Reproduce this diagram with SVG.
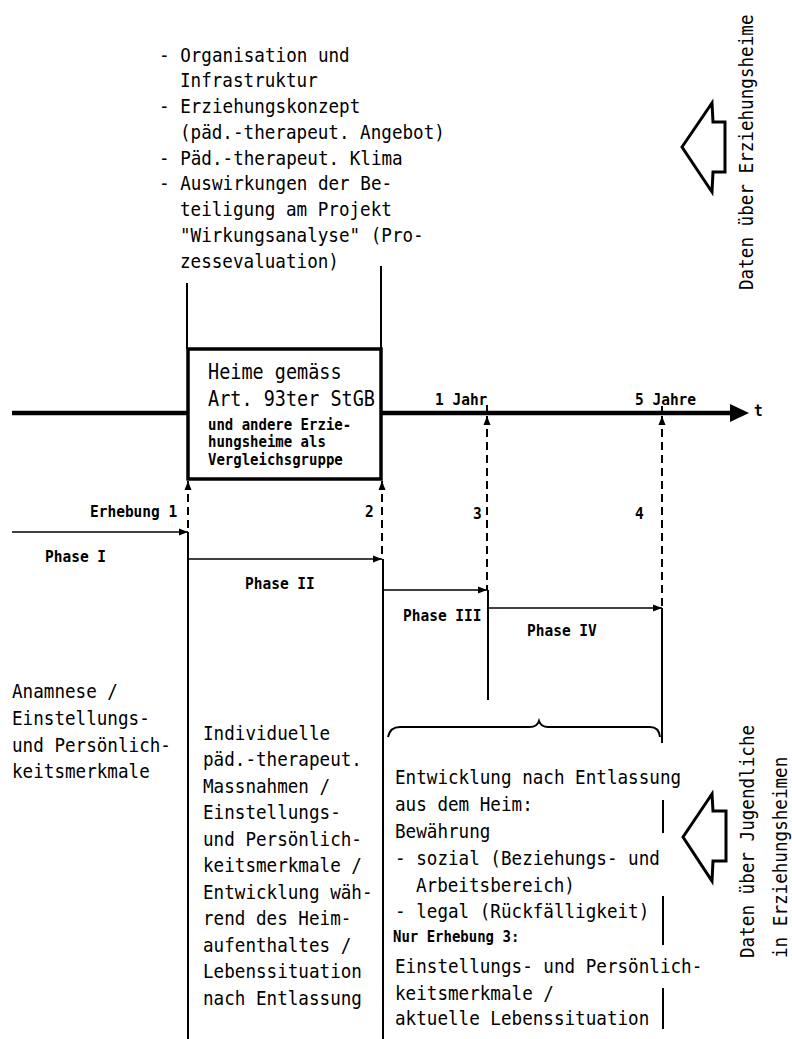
<svg xmlns="http://www.w3.org/2000/svg" width="792" height="1039" viewBox="0 0 792 1039">
<style>
text{font-family:"DejaVu Sans Mono","Liberation Mono",monospace;fill:#000;transform-box:fill-box;transform-origin:0 100%;transform:scaleY(1.1)}
.t{font-size:17.6px}
.tb{font-size:18.5px}
.s{font-size:14px;font-weight:bold}
.l{font-size:14.5px;font-weight:bold}
.ln{stroke:#000;stroke-width:2;fill:none}
.ph{stroke:#000;stroke-width:1.6;fill:none;marker-end:url(#ah)}
.da{stroke:#000;stroke-width:2;fill:none;stroke-dasharray:8 5;marker-start:url(#au)}
.ho{stroke:#000;stroke-width:3;fill:none;stroke-linejoin:miter}
</style>
<defs>
<marker id="ah" markerWidth="10" markerHeight="8" refX="9" refY="4" orient="auto" markerUnits="userSpaceOnUse"><path d="M0,0.5 L9,4 L0,7.5 Z" fill="#000"/></marker>
<marker id="au" markerWidth="8" markerHeight="10" refX="4" refY="0" orient="0" markerUnits="userSpaceOnUse"><path d="M0.5,9 L4,0 L7.5,9 Z" fill="#000"/></marker>
</defs>
<rect width="792" height="1039" fill="#fff"/>

<g id="connectors">
<line class="ln" x1="187" y1="283" x2="187" y2="349"/>
<line class="ln" x1="381" y1="266" x2="381" y2="349"/>
<line x1="12" y1="413" x2="733" y2="413" stroke="#000" stroke-width="4.5"/>
<polygon points="730,404 749,413 730,422" fill="#000"/>
<line class="ln" x1="487" y1="405" x2="487" y2="413"/>
<line class="ln" x1="662" y1="406" x2="662" y2="413"/>
<line class="da" x1="188" y1="481" x2="188" y2="532"/>
<line class="da" x1="382" y1="481" x2="382" y2="559"/>
<line class="da" x1="487" y1="416" x2="487" y2="590"/>
<line class="da" x1="662" y1="416" x2="662" y2="608"/>
<line class="ph" x1="12" y1="532" x2="188" y2="532"/>
<line class="ph" x1="188" y1="559" x2="382" y2="559"/>
<line class="ph" x1="383" y1="590" x2="487" y2="590"/>
<line class="ph" x1="488" y1="608" x2="662" y2="608"/>
<line class="ln" x1="188" y1="532" x2="188" y2="1039"/>
<line class="ln" x1="383" y1="559" x2="383" y2="1039"/>
<line class="ln" x1="488" y1="590" x2="488" y2="700"/>
<line class="ln" x1="662" y1="608" x2="662" y2="743"/>
<line class="ln" x1="663" y1="800" x2="663" y2="833"/>
<line class="ln" x1="663" y1="896" x2="663" y2="945"/>
<line class="ln" x1="663" y1="988" x2="663" y2="1029"/>
<path class="ln" d="M388,737 Q390,727 400,727 L530,727 Q537,727 539,721 Q541,727 548,727 L650,727 Q659,727 660,737"/>
</g>

<g id="top-list">
<text class="t" x="159" y="62">- Organisation und</text>
<text class="t" x="180" y="87.75">Infrastruktur</text>
<text class="t" x="159" y="113.5">- Erziehungskonzept</text>
<text class="t" x="180" y="139.25">(päd.-therapeut. Angebot)</text>
<text class="t" x="159" y="165">- Päd.-therapeut. Klima</text>
<text class="t" x="159" y="190.75">- Auswirkungen der Be-</text>
<text class="t" x="180" y="216.5">teiligung am Projekt</text>
<text class="t" x="180" y="242.25">"Wirkungsanalyse" (Pro-</text>
<text class="t" x="180" y="268">zessevaluation)</text>
</g>

<g id="data-homes">
<polygon class="ho" points="682,147 712,103 713,122 725,122 725,172 713,172 712,192"/>
<g transform="translate(753,290) rotate(-90)"><text class="t" x="0" y="0">Daten über Erziehungsheime</text></g>
</g>

<g id="box">
<rect x="188" y="349" width="193" height="130" fill="#fff" stroke="#000" stroke-width="3.5"/>
<text class="tb" x="208" y="379">Heime gemäss</text>
<text class="tb" x="208" y="406">Art. 93ter StGB</text>
<text class="s" x="208" y="430">und andere Erzie-</text>
<text class="s" x="208" y="447.5">hungsheime als</text>
<text class="s" x="208" y="465">Vergleichsgruppe</text>
</g>

<g id="axis-labels">
<text class="l" x="435" y="405">1 Jahr</text>
<text class="l" x="635" y="405">5 Jahre</text>
<text class="l" x="754" y="416" font-size="15">t</text>
<text class="l" x="90" y="517">Erhebung 1</text>
<text class="l" x="365" y="517">2</text>
<text class="l" x="473" y="519">3</text>
<text class="l" x="635" y="519">4</text>
</g>

<g id="phases">
<text class="l" x="45" y="562">Phase I</text>
<text class="l" x="245" y="589">Phase II</text>
<text class="l" x="403" y="621">Phase III</text>
<text class="l" x="527" y="636">Phase IV</text>
</g>

<g id="col-anamnese">
<text class="t" x="12" y="698">Anamnese /</text>
<text class="t" x="12" y="725">Einstellungs-</text>
<text class="t" x="12" y="752">und Persönlich-</text>
<text class="t" x="12" y="778">keitsmerkmale</text>
</g>

<g id="col-heim">
<text class="t" x="203" y="740">Individuelle</text>
<text class="t" x="203" y="766.5">päd.-therapeut.</text>
<text class="t" x="203" y="793">Massnahmen /</text>
<text class="t" x="203" y="819.5">Einstellungs-</text>
<text class="t" x="203" y="846">und Persönlich-</text>
<text class="t" x="203" y="872.5">keitsmerkmale /</text>
<text class="t" x="203" y="899">Entwicklung wäh-</text>
<text class="t" x="203" y="925.5">rend des Heim-</text>
<text class="t" x="203" y="952">aufenthaltes /</text>
<text class="t" x="203" y="978.5">Lebenssituation</text>
<text class="t" x="203" y="1005">nach Entlassung</text>
</g>

<g id="col-nach">
<text class="t" x="395" y="784">Entwicklung nach Entlassung</text>
<text class="t" x="395" y="811">aus dem Heim:</text>
<text class="t" x="395" y="838">Bewährung</text>
<text class="t" x="395" y="865">- sozial (Beziehungs- und</text>
<text class="t" x="416" y="892">Arbeitsbereich)</text>
<text class="t" x="395" y="918">- legal (Rückfälligkeit)</text>
<text class="s" x="393" y="942">Nur Erhebung 3:</text>
<text class="t" x="395" y="973">Einstellungs- und Persönlich-</text>
<text class="t" x="395" y="1000">keitsmerkmale /</text>
<text class="t" x="395" y="1025">aktuelle Lebenssituation</text>
</g>

<g id="data-youth">
<polygon class="ho" points="683,837 712,794 713,811 726,811 726,861 713,861 712,881"/>
<g transform="translate(754,958) rotate(-90)"><text class="t" x="0" y="0">Daten über Jugendliche</text></g>
<g transform="translate(787,958) rotate(-90)"><text class="t" x="0" y="0">in Erziehungsheimen</text></g>
</g>
</svg>
